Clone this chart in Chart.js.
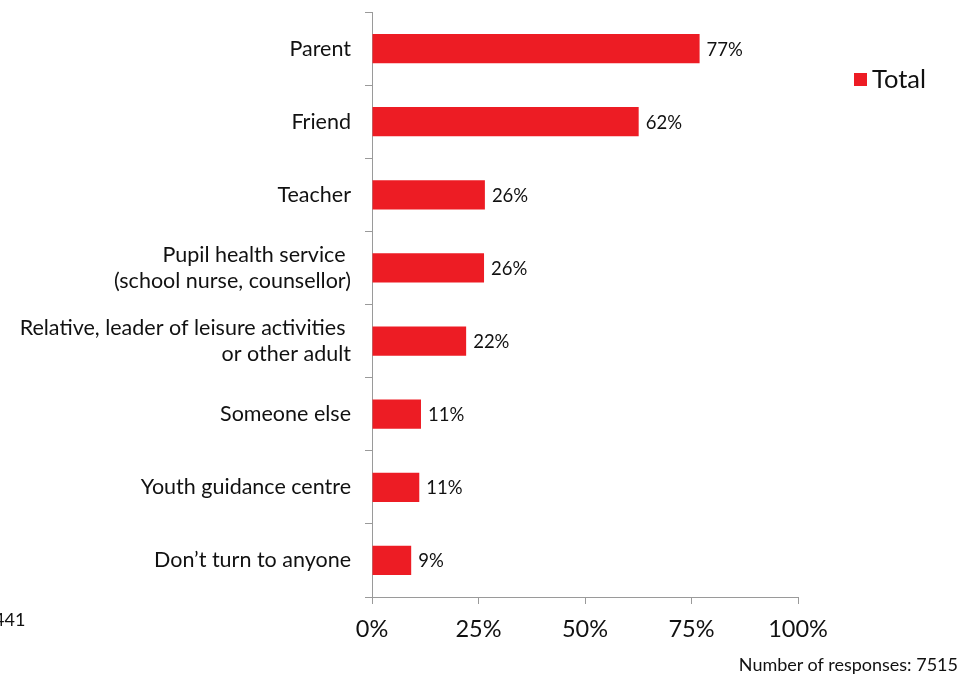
<!DOCTYPE html>
<html>
<head>
<meta charset="utf-8">
<script src="https://cdn.jsdelivr.net/npm/chart.js@4.4.1/dist/chart.umd.min.js"></script>
<style>
  html, body { margin:0; padding:0; background:#fff; }
  #wrap { position:relative; width:976px; height:675px; overflow:hidden; font-family:Lato, "Open Sans", sans-serif; color:#111; }
  #c { position:absolute; left:0; top:0; }
  .note { position:absolute; font-size:18px; white-space:nowrap; }
</style>
</head>
<body>
<div id="wrap">
  <canvas id="c" width="976" height="675"></canvas>
  <div class="note" style="left:-6px; top:608px;">441</div>
  <div class="note" style="right:18px; top:653px;">Number of responses: 7515</div>
</div>
<script>
/* ---- data ---- */
var CATEGORIES = [
  'Parent',
  'Friend',
  'Teacher',
  ['Pupil health service ', '(school nurse, counsellor)'],
  ['Relative, leader of leisure activities ', 'or other adult'],
  'Someone else',
  'Youth guidance centre',
  'Don\u2019t turn to anyone'
];
var TOTAL  = [76.9, 62.6, 26.5, 26.3, 22.1, 11.5, 11.1, 9.2];
var LABELS = ['77%', '62%', '26%', '26%', '22%', '11%', '11%', '9%'];
var X_TICKS = [0, 25, 50, 75, 100];
var SERIES_NAME = 'Total';

var RED = '#ED1C24';
var AXIS = '#9a9a9a';
var FONT = 'Lato, "Open Sans", sans-serif';

/* value labels at the bar ends + legend box on the right */
var extras = {
  id: 'extras',
  afterDatasetsDraw: function(chart) {
    var ctx = chart.ctx;
    var meta = chart.getDatasetMeta(0);
    ctx.save();
    ctx.fillStyle = '#111';
    ctx.font = '18.5px ' + FONT;
    ctx.textAlign = 'left';
    ctx.textBaseline = 'middle';
    meta.data.forEach(function(bar, i) {
      ctx.fillText(LABELS[i], bar.x + 7, bar.y + 1);
    });

    /* legend */
    ctx.fillStyle = RED;
    ctx.fillRect(854, 73, 13, 13);
    ctx.fillStyle = '#111';
    ctx.font = '25.5px ' + FONT;
    ctx.fillText(SERIES_NAME, 872, 80);
    ctx.restore();
  }
};

new Chart(document.getElementById('c'), {
  type: 'bar',
  data: {
    labels: CATEGORIES,
    datasets: [{
      label: SERIES_NAME,
      data: TOTAL,
      backgroundColor: RED,
      borderWidth: 0,
      categoryPercentage: 1,
      barPercentage: 0.4
    }]
  },
  options: {
    indexAxis: 'y',
    responsive: false,
    animation: false,
    layout: { padding: { top: 12, right: 178, bottom: 0, left: 0 } },
    plugins: { legend: { display: false }, tooltip: { enabled: false } },
    scales: {
      x: {
        min: 0, max: 100,
        afterBuildTicks: function(scale) {
          scale.ticks = X_TICKS.map(function(v){ return { value: v }; });
        },
        afterFit: function(scale) {
          scale.height = 78;
          scale.paddingLeft = 0; scale.paddingRight = 0;
        },
        grid: { drawOnChartArea: false, drawTicks: true, tickLength: 7, color: AXIS },
        border: { display: true, color: AXIS, width: 1 },
        ticks: {
          color: '#111', padding: 11,
          font: { family: FONT, size: 23.5 },
          callback: function(v) { return v + '%'; }
        }
      },
      y: {
        afterFit: function(scale) {
          scale.width = 372;
          scale.paddingTop = 0; scale.paddingBottom = 0;
        },
        grid: { drawOnChartArea: false, drawTicks: true, tickLength: 7, color: AXIS, offset: true },
        border: { display: true, color: AXIS, width: 1 },
        ticks: {
          color: '#111', padding: 14,
          font: { family: FONT, size: 21.5, lineHeight: 1.2 }
        }
      }
    }
  },
  plugins: [extras]
});
</script>
</body>
</html>
